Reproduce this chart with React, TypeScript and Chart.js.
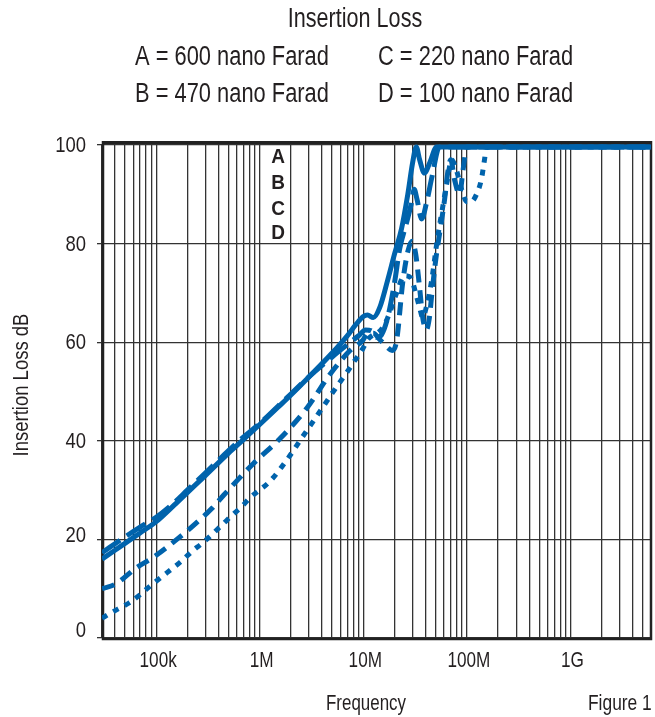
import React, { useEffect, useRef } from 'react';
import { Chart, registerables } from 'chart.js';
Chart.register(...registerables);

const FONT = '"Liberation Sans", Arial, sans-serif';
const BLUE = '#0063AC';
const INK = '#231f20';

// Series A (solid) - 600 nF
const freqA = [3e4, 4e4, 5e4, 7e4, 1e5, 1.5e5, 2e5, 3e5, 5e5, 7e5, 1e6, 1.5e6, 2e6, 3e6, 5e6, 7e6, 8.5e6, 1e7, 1.1e7, 1.25e7, 1.44e7, 1.72e7, 2.01e7, 2.34e7, 2.69e7, 3e7, 3.25e7, 3.5e7, 3.9e7, 4.4e7, 5.1e7, 6e9];
const lossA = [16, 17.8, 19.2, 21.3, 23.6, 27, 29.5, 33, 37.5, 40.3, 43.3, 46.8, 49.3, 53, 57.8, 61.3, 63.6, 65.2, 65.5, 65, 67, 72.6, 78, 83, 90, 96.5, 99.6, 97, 94.3, 96.5, 99.6, 99.6];

// Series B (long dash) - 470 nF
const freqB = [3e4, 5e4, 7e4, 1e5, 1.5e5, 2e5, 3e5, 5e5, 7e5, 1e6, 1.5e6, 2e6, 3e6, 5e6, 7e6, 9e6, 1.05e7, 1.2e7, 1.35e7, 1.5e7, 1.72e7, 2e7, 2.25e7, 2.6e7, 2.9e7, 3.1e7, 3.3e7, 3.66e7, 4.1e7, 4.6e7, 5.45e7, 6e9];
const lossB = [17.3, 20.5, 22.5, 24.5, 27.5, 30, 33.5, 38, 40.8, 43.5, 47, 49.5, 53, 57, 59.5, 61.3, 62.5, 62.3, 61, 61.5, 65, 72, 79, 84, 88, 91, 89, 85, 88.5, 93.5, 99.6, 99.6];

// Series C (medium dash) - 220 nF
const freqC = [3e4, 4.1e4, 6.4e4, 9.3e4, 1.65e5, 2.4e5, 3.5e5, 4.5e5, 8.7e5, 1.58e6, 2.87e6, 4.78e6, 7.44e6, 9.9e6, 1.1e7, 1.25e7, 1.45e7, 1.7e7, 1.9e7, 2.05e7, 2.15e7, 2.4e7, 2.7e7, 2.95e7, 3.2e7, 3.5e7, 3.75e7, 4.05e7, 4.35e7, 4.6e7, 5.1e7, 5.5e7, 6.1e7, 6.6e7, 7e7, 7.6e7, 8.5e7, 9.2e7, 1e8, 6e9];
const lossC = [10, 11, 14.2, 16.3, 20.3, 23.2, 26.4, 29, 35.4, 40.5, 46.7, 53.5, 58.3, 60.4, 61.8, 61.8, 60.5, 59, 58.3, 59.3, 62, 72, 78.5, 80.5, 78, 71, 65, 62.5, 65, 70, 78, 82.5, 89, 95, 97, 93, 90, 95, 99.6, 99.6];

// Series D (dotted) - 100 nF
const freqD = [3e4, 3.27e4, 4.3e4, 5.46e4, 7.1e4, 8.8e4, 1.1e5, 1.41e5, 1.76e5, 2.2e5, 2.81e5, 3.5e5, 4.36e5, 5.34e5, 6.66e5, 8.13e5, 1.27e6, 1.84e6, 2.57e6, 3.58e6, 4.99e6, 6.95e6, 8.3e6, 9.9e6, 1.1e7, 1.25e7, 1.4e7, 1.6e7, 1.8e7, 2.1e7, 2.5e7, 2.9e7, 3.2e7, 3.5e7, 3.75e7, 4.05e7, 4.57e7, 5.2e7, 5.8e7, 6.5e7, 7.1e7, 7.9e7, 8.9e7, 1e8, 1.1e8, 1.24e8, 1.38e8, 1.48e8, 1.55e8, 6e9];
const lossD = [4, 4.5, 5.9, 7.1, 8.9, 10.6, 12.2, 14, 15.6, 17.5, 19.3, 21.1, 23, 24.8, 26.6, 28.5, 31.9, 36.2, 40.7, 45.1, 49.6, 53.9, 56.3, 58.7, 60.5, 61.5, 62, 63.5, 66, 70, 73.5, 73, 70, 67, 65, 67, 72.5, 81, 87, 93, 97, 95, 91, 88.5, 88.5, 90, 93, 97, 99.6, 99.6];

// Axis values
const xGridValues = [3e4, 4e4, 5e4, 6e4, 7e4, 8e4, 9e4, 1e5, 2e5, 3e5, 4e5, 5e5, 6e5, 7e5, 8e5, 9e5, 1e6, 2e6, 3e6, 4e6, 5e6, 6e6, 7e6, 8e6, 9e6, 1e7, 2e7, 3e7, 4e7, 5e7, 6e7, 7e7, 8e7, 9e7, 1e8, 2e8, 3e8, 4e8, 5e8, 6e8, 7e8, 8e8, 9e8, 1e9, 2e9, 3e9, 4e9, 5e9, 6e9];
const xLabelValues = [1e5, 1e6, 1e7, 1e8, 1e9];
const xLabelTexts = ['100k', '1M', '10M', '100M', '1G'];
const yTickValues = [0, 20, 40, 60, 80, 100];

const seriesNames = ['A', 'B', 'C', 'D'];
const legendTexts = ['A = 600 nano Farad', 'B = 470 nano Farad', 'C = 220 nano Farad', 'D = 100 nano Farad'];
const chartTitle = 'Insertion Loss';
const xTitle = 'Frequency';
const yTitle = 'Insertion Loss dB';
const figureLabel = 'Figure 1';

const toPts = (fs: number[], ls: number[]) => fs.map((f, i) => ({ x: f, y: ls[i] }));

// condensed text helper (narrow sans look)
function txt(ctx: CanvasRenderingContext2D, s: string, x: number, y: number, size: number, sx: number, align: CanvasTextAlign, base: CanvasTextBaseline = 'alphabetic', weight = '') {
  ctx.save();
  ctx.translate(x, y);
  ctx.scale(sx, 1);
  ctx.font = `${weight} ${size}px ${FONT}`;
  ctx.textAlign = align;
  ctx.textBaseline = base;
  ctx.fillStyle = INK;
  ctx.fillText(s, 0, 0);
  ctx.restore();
}

const framePlugin = {
  id: 'frame',
  beforeDatasetsDraw(chart: any) {
    const { ctx, chartArea: ca } = chart;
    ctx.save();
    ctx.strokeStyle = '#222';
    ctx.lineWidth = 3;
    ctx.beginPath();
    ctx.moveTo(ca.left, ca.top - 2.5);
    ctx.lineTo(ca.right, ca.top - 2.5);
    ctx.stroke();
    ctx.lineWidth = 2.5;
    ctx.beginPath();
    ctx.moveTo(ca.left + 1, ca.top - 4);
    ctx.lineTo(ca.left + 1, ca.bottom + 1);
    ctx.lineTo(ca.right, ca.bottom + 1);
    ctx.lineTo(ca.right, ca.top - 4);
    ctx.stroke();
    ctx.restore();
  },
  afterDraw(chart: any) {
    const { ctx } = chart;
    const xs = chart.scales.x;
    const ysc = chart.scales.y;
    ctx.save();
    txt(ctx, chartTitle, 355, 27, 27, 0.8, 'center');
    txt(ctx, legendTexts[0], 135, 65, 27, 0.81, 'left');
    txt(ctx, legendTexts[2], 378, 65, 27, 0.81, 'left');
    txt(ctx, legendTexts[1], 135, 102, 27, 0.81, 'left');
    txt(ctx, legendTexts[3], 378, 102, 27, 0.81, 'left');

    // x tick labels
    xLabelValues.forEach((v, i) => {
      txt(ctx, xLabelTexts[i], xs.getPixelForValue(v) + 2, 667, 22, 0.78, 'center');
    });
    // y tick labels
    yTickValues.forEach((v) => {
      const y = ysc.getPixelForValue(v) + (v === 0 ? -7 : v === 20 ? -3 : 1);
      txt(ctx, String(v), 86, y, 22, 0.84, 'right', 'middle');
    });

    txt(ctx, xTitle, 366, 710, 22, 0.77, 'center');
    txt(ctx, figureLabel, 588, 710, 22, 0.79, 'left');

    ctx.save();
    ctx.translate(22, 385);
    ctx.rotate(-Math.PI / 2);
    txt(ctx, yTitle, 0, 0, 22, 0.84, 'center', 'middle');
    ctx.restore();

    const ys = [163, 189, 215, 239];
    seriesNames.forEach((n, i) => txt(ctx, n, 278, ys[i], 20, 0.95, 'center', 'alphabetic', 'bold'));
    ctx.restore();
  },
};

export default function App() {
  const ref = useRef<HTMLCanvasElement>(null);
  useEffect(() => {
    document.body.style.margin = '0';
    const canvas = ref.current!;
    const common = {
      borderColor: BLUE,
      borderWidth: 5,
      pointRadius: 0,
      fill: false,
      cubicInterpolationMode: 'monotone' as const,
      borderCapStyle: 'butt' as const,
      borderJoinStyle: 'round' as const,
      clip: { left: 0, right: 0, top: 6, bottom: 0 },
    };
    const chart = new Chart(canvas, {
      type: 'line',
      data: {
        datasets: [
          { ...common, label: 'A', data: toPts(freqA, lossA) },
          { ...common, label: 'B', data: toPts(freqB, lossB), borderDash: [22, 8] },
          { ...common, label: 'C', data: toPts(freqC, lossC), borderDash: [13, 8] },
          { ...common, label: 'D', data: toPts(freqD, lossD), borderDash: [6, 7] },
        ],
      },
      options: {
        responsive: false,
        animation: false,
        devicePixelRatio: 1,
        layout: { padding: { top: 145, right: 4, left: 0, bottom: 0 } },
        plugins: { legend: { display: false }, tooltip: { enabled: false }, title: { display: false } },
        scales: {
          x: {
            type: 'logarithmic',
            min: 3e4,
            max: 6e9,
            afterBuildTicks: (scale: any) => {
              scale.ticks = xGridValues.map((v) => ({ value: v }));
            },
            afterFit: (scale: any) => {
              scale.height = 79;
            },
            grid: { color: '#333', lineWidth: 1.3, drawTicks: false },
            border: { display: false },
            ticks: { display: false, autoSkip: false, maxRotation: 0, minRotation: 0 },
          },
          y: {
            min: 0,
            max: 100,
            afterBuildTicks: (scale: any) => {
              scale.ticks = yTickValues.map((v) => ({ value: v }));
            },
            afterFit: (scale: any) => {
              scale.width = 102;
            },
            grid: { color: '#333', lineWidth: 1.3, drawTicks: true, tickLength: 5 },
            border: { display: false },
            ticks: { display: false },
          },
        },
      },
      plugins: [framePlugin],
    });
    return () => chart.destroy();
  }, []);
  return (
    <canvas
      ref={ref}
      width={655}
      height={717}
      style={{ display: 'block', position: 'fixed', left: 0, top: 0, width: 655, height: 717, background: '#fff' }}
    />
  );
}
